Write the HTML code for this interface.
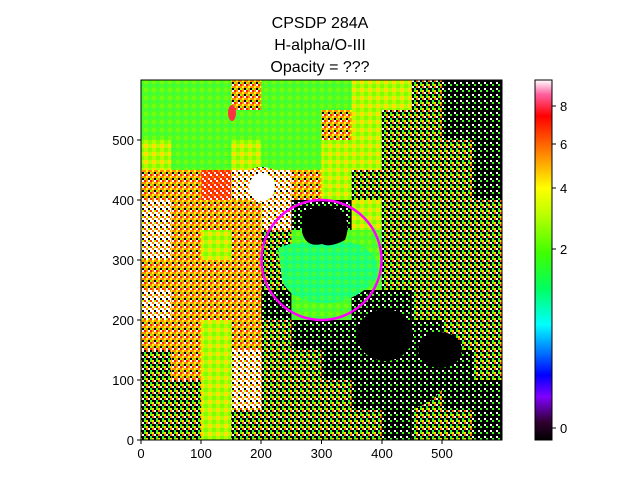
<!DOCTYPE html>
<html><head><meta charset="utf-8"><style>
body{margin:0;background:#fff;font-family:"Liberation Sans",sans-serif}
svg text{font-family:"Liberation Sans",sans-serif}
</style></head><body>
<svg id="svg" width="640" height="480" viewBox="0 0 640 480">
<defs>
<linearGradient id="cb" x1="0" y1="1" x2="0" y2="0">
<stop offset="0" stop-color="#000000"/>
<stop offset="0.05" stop-color="#300030"/>
<stop offset="0.12" stop-color="#8000ff"/>
<stop offset="0.18" stop-color="#0000ff"/>
<stop offset="0.32" stop-color="#00ffff"/>
<stop offset="0.42" stop-color="#00ff60"/>
<stop offset="0.52" stop-color="#40ff00"/>
<stop offset="0.63" stop-color="#c0ff00"/>
<stop offset="0.70" stop-color="#ffff00"/>
<stop offset="0.80" stop-color="#ff8000"/>
<stop offset="0.90" stop-color="#ff0000"/>
<stop offset="0.96" stop-color="#ff60a0"/>
<stop offset="1" stop-color="#ffffff"/>
</linearGradient>
<pattern id="pG" width="8" height="8" patternUnits="userSpaceOnUse"><rect width="8" height="8" fill="#50ff20"/><rect x="0" y="0" width="4" height="4" fill="#70ff10"/><rect x="4" y="4" width="3" height="3" fill="#30ff50"/></pattern>
<pattern id="pC" width="8" height="8" patternUnits="userSpaceOnUse"><rect width="8" height="8" fill="#20ff70"/><rect x="0" y="0" width="4" height="4" fill="#40ff40"/><rect x="5" y="5" width="2" height="2" fill="#00ffb0"/></pattern>
<pattern id="pY" width="8" height="8" patternUnits="userSpaceOnUse"><rect width="8" height="8" fill="#b0ff00"/><rect x="0" y="0" width="4" height="4" fill="#ffe000"/><rect x="4" y="4" width="4" height="4" fill="#80ff00"/></pattern>
<pattern id="pO" width="6" height="6" patternUnits="userSpaceOnUse"><rect width="6" height="6" fill="#ff9000"/><rect x="0" y="0" width="2" height="2" fill="#ff2000"/><rect x="2" y="2" width="2" height="2" fill="#ffff00"/><rect x="4" y="0" width="2" height="2" fill="#ffffff"/><rect x="0" y="4" width="2" height="2" fill="#a0ff00"/><rect x="4" y="4" width="2" height="2" fill="#000"/></pattern>
<pattern id="pR" width="6" height="6" patternUnits="userSpaceOnUse"><rect width="6" height="6" fill="#ff3000"/><rect x="0" y="0" width="2" height="2" fill="#fff"/><rect x="2" y="2" width="2" height="2" fill="#ff8000"/><rect x="4" y="4" width="2" height="2" fill="#ffe0e0"/></pattern>
<pattern id="pW" width="6" height="6" patternUnits="userSpaceOnUse"><rect width="6" height="6" fill="#ffffff"/><rect x="0" y="0" width="2" height="2" fill="#ff3000"/><rect x="2" y="2" width="2" height="2" fill="#ff9000"/><rect x="4" y="4" width="2" height="2" fill="#000"/><rect x="4" y="0" width="2" height="2" fill="#c0ff00"/></pattern>
<pattern id="pM" width="6" height="6" patternUnits="userSpaceOnUse"><rect width="6" height="6" fill="#000"/><rect x="0" y="0" width="2" height="2" fill="#60ff00"/><rect x="2" y="0" width="2" height="2" fill="#ffe000"/><rect x="4" y="2" width="2" height="2" fill="#ffffff"/><rect x="0" y="4" width="2" height="2" fill="#30ff40"/><rect x="2" y="2" width="2" height="2" fill="#ff7000"/></pattern>
<pattern id="pK" width="6" height="6" patternUnits="userSpaceOnUse"><rect width="6" height="6" fill="#000"/><rect x="0" y="0" width="2" height="2" fill="#40ff20"/><rect x="4" y="4" width="2" height="2" fill="#ffffff"/></pattern>
<clipPath id="ax"><rect x="141" y="80" width="361" height="360"/></clipPath>
</defs>
<text x="320" y="28" text-anchor="middle" font-size="16">CPSDP 284A</text>
<text x="320" y="50" text-anchor="middle" font-size="16">H-alpha/O-III</text>
<text x="320" y="72" text-anchor="middle" font-size="16">Opacity = ???</text>
<g id="img" clip-path="url(#ax)"></g>
<g id="feat" clip-path="url(#ax)">
<path d="M278 248 Q300 238 350 242 Q380 250 378 275 Q360 302 325 303 Q290 302 282 280 Z" fill="url(#pC)"/>
<path d="M302 212 Q320 204 340 210 Q352 222 345 240 Q330 248 322 244 Q306 248 302 232 Z" fill="#000"/>
<ellipse cx="262" cy="185" rx="22" ry="18" fill="url(#pW)"/>
<ellipse cx="262" cy="187" rx="13" ry="14" fill="#fff"/>
<ellipse cx="232" cy="113" rx="4" ry="8" fill="#ff3040"/>
<ellipse cx="400" cy="365" rx="50" ry="45" fill="url(#pK)"/>
<ellipse cx="385" cy="335" rx="28" ry="26" fill="#000"/>
<ellipse cx="440" cy="350" rx="22" ry="18" fill="#000"/>
</g>
<circle cx="321.5" cy="260" r="60" fill="none" stroke="#ff00ff" stroke-width="2.5"/>
<rect x="141" y="80" width="361" height="360" fill="none" stroke="#000" stroke-width="1"/>
<g font-size="13">
<line x1="141" y1="440" x2="141" y2="444" stroke="#000"/><text x="141" y="458" text-anchor="middle">0</text>
<line x1="201" y1="440" x2="201" y2="444" stroke="#000"/><text x="201" y="458" text-anchor="middle">100</text>
<line x1="261" y1="440" x2="261" y2="444" stroke="#000"/><text x="261" y="458" text-anchor="middle">200</text>
<line x1="321.5" y1="440" x2="321.5" y2="444" stroke="#000"/><text x="321.5" y="458" text-anchor="middle">300</text>
<line x1="382" y1="440" x2="382" y2="444" stroke="#000"/><text x="382" y="458" text-anchor="middle">400</text>
<line x1="442" y1="440" x2="442" y2="444" stroke="#000"/><text x="442" y="458" text-anchor="middle">500</text>
</g>
<g font-size="13" text-anchor="end">
<line x1="137" y1="440" x2="141" y2="440" stroke="#000"/><text x="134" y="445">0</text>
<line x1="137" y1="380" x2="141" y2="380" stroke="#000"/><text x="134" y="385">100</text>
<line x1="137" y1="320" x2="141" y2="320" stroke="#000"/><text x="134" y="325">200</text>
<line x1="137" y1="260" x2="141" y2="260" stroke="#000"/><text x="134" y="265">300</text>
<line x1="137" y1="200" x2="141" y2="200" stroke="#000"/><text x="134" y="205">400</text>
<line x1="137" y1="140" x2="141" y2="140" stroke="#000"/><text x="134" y="145">500</text>
</g>
<rect x="535" y="80" width="17" height="360" fill="url(#cb)" stroke="#000" stroke-width="1"/>
<g font-size="13">
<line x1="552" y1="428" x2="556" y2="428" stroke="#000"/><text x="560" y="433">0</text>
<line x1="552" y1="249" x2="556" y2="249" stroke="#000"/><text x="560" y="254">2</text>
<line x1="552" y1="188" x2="556" y2="188" stroke="#000"/><text x="560" y="193">4</text>
<line x1="552" y1="144" x2="556" y2="144" stroke="#000"/><text x="560" y="149">6</text>
<line x1="552" y1="106" x2="556" y2="106" stroke="#000"/><text x="560" y="111">8</text>
</g>
</svg>
<script>
const gridRows = [
"GGGOGGGYYMKK",
"GGGGGGOYMMKK",
"YGGYGGYYMMMK",
"OORWWOYMMMMK",
"WOOOWKKYMMMM",
"WOYOMGGGMMMM",
"OOOOMCCGMMMM",
"WOOOKGGKKMMM",
"OOYOMKKKKKMM",
"MOYWMMKKKKKM",
"MMYWMMMKKMKK",
"MMYMMMMMKMMK"
];
const img = document.getElementById('img');
const x0 = 141, y0 = 80, cw = 361/12, ch = 360/12;
gridRows.forEach((row, r) => {
  [...row].forEach((c, k) => {
    const rect = document.createElementNS('http://www.w3.org/2000/svg', 'rect');
    rect.setAttribute('x', x0 + k*cw);
    rect.setAttribute('y', y0 + r*ch);
    rect.setAttribute('width', cw + 0.6);
    rect.setAttribute('height', ch + 0.6);
    rect.setAttribute('fill', 'url(#p' + c + ')');
    
    
    img.appendChild(rect);
  });
});
</script>
</body></html>
